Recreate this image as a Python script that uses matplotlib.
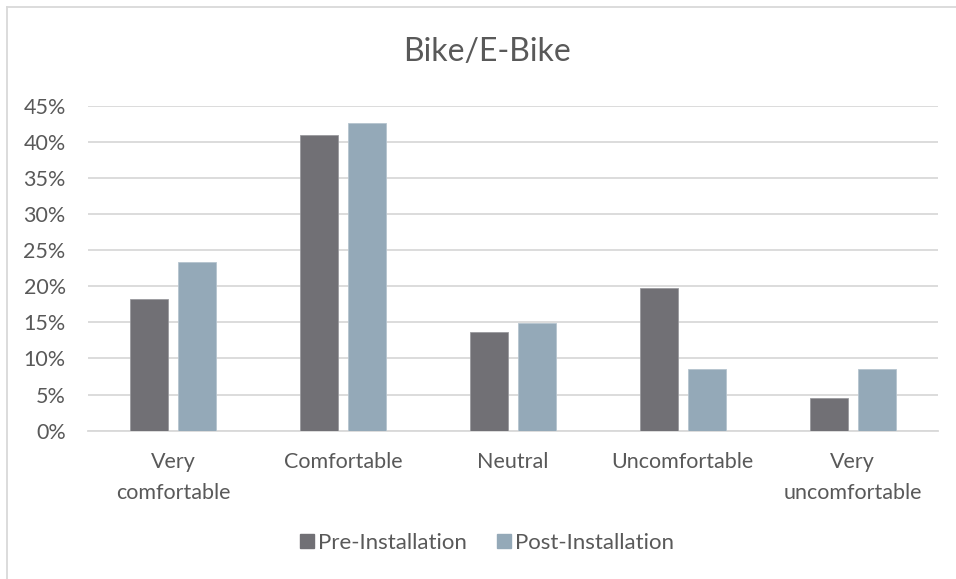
import numpy as np
import matplotlib
matplotlib.use("Agg")
import matplotlib.pyplot as plt
from matplotlib.ticker import PercentFormatter
from matplotlib.lines import Line2D

categories = ["Very\ncomfortable", "Comfortable", "Neutral", "Uncomfortable", "Very\nuncomfortable"]
pre_install = [0.182, 0.409, 0.136, 0.197, 0.045]
post_install = [0.234, 0.426, 0.149, 0.085, 0.085]
series_names = ["Pre-Installation", "Post-Installation"]
yticks = [0, 0.05, 0.10, 0.15, 0.20, 0.25, 0.30, 0.35, 0.40, 0.45]

pre_color = "#717075"
post_color = "#94a9b8"
text_color = "#595959"
grid_color = "#d9d9d9"

plt.rcParams["font.family"] = ["Lato", "DejaVu Sans"]

fig = plt.figure(figsize=(9.56, 5.79), dpi=100)
ax = fig.add_axes([0.092, 0.2561, 0.889, 0.5613])

x = np.arange(len(categories))
w = 0.224
ax.bar(x - 0.142, pre_install, w, color=pre_color, edgecolor="#9a9a9e", linewidth=0.6, zorder=3)
ax.bar(x + 0.142, post_install, w, color=post_color, edgecolor="#b5c4cf", linewidth=0.6, zorder=3)

ax.set_xlim(-0.5, len(categories) - 0.5)
ax.set_ylim(0, 0.45)
ax.set_yticks(yticks)
ax.yaxis.set_major_formatter(PercentFormatter(1.0, decimals=0))
ax.grid(axis="y", color=grid_color, linewidth=1.3, zorder=0)
for s in ["top", "right", "left"]:
    ax.spines[s].set_visible(False)
ax.spines["bottom"].set_color(grid_color)
ax.spines["bottom"].set_linewidth(1.3)
ax.tick_params(axis="y", length=0, pad=16, labelsize=15.5, labelcolor=text_color)
ax.set_xticks(x)
ax.set_xticklabels(categories, linespacing=1.7)
ax.tick_params(axis="x", length=0, pad=15, labelsize=15.5, labelcolor=text_color)

fig.text(0.509, 0.91, "Bike/E-Bike", ha="center", va="center", fontsize=23, color=text_color)

handles = [Line2D([], [], marker="s", linestyle="", markersize=9.5, color=c)
           for c in (pre_color, post_color)]
fig.legend(handles, series_names, loc="center", bbox_to_anchor=(0.508, 0.062), ncol=2,
           frameon=False, fontsize=16, labelcolor=text_color, handletextpad=0.05,
           columnspacing=1.2, handlelength=0.9)

# chart frame
fig.add_artist(Line2D([0.007, 0.007], [0, 0.988], transform=fig.transFigure, color=grid_color, linewidth=1.3))
fig.add_artist(Line2D([0.007, 1.0], [0.988, 0.988], transform=fig.transFigure, color=grid_color, linewidth=1.3))

fig.savefig("out.png", dpi=100)
